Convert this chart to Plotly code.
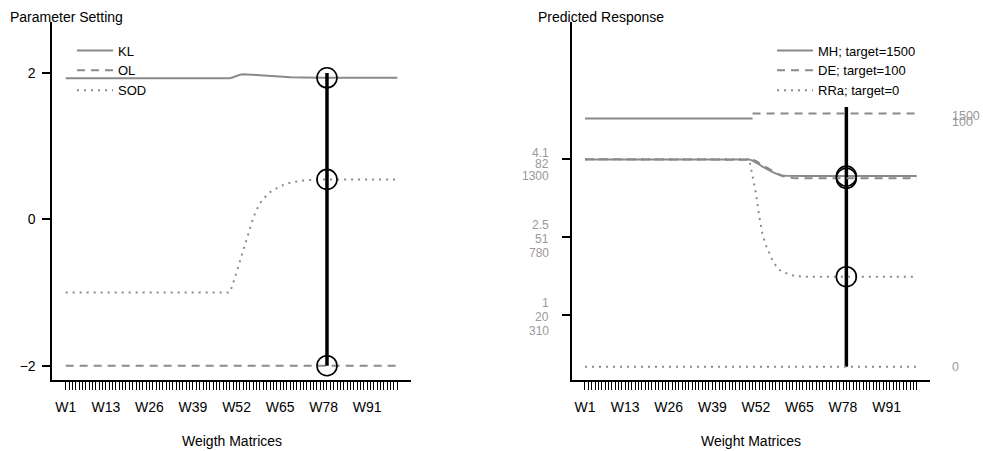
import plotly.graph_objects as go

# ---------------- data ----------------
categories = [f"W{i}" for i in range(1, 101)]
tick_labels = ["W1", "W13", "W26", "W39", "W52", "W65", "W78", "W91"]
selected = "W79"

# Parameter setting (left panel)
KL = [1.928] * 50 + [1.94, 1.96, 1.975, 1.98, 1.98, 1.978, 1.975, 1.972, 1.968, 1.964,
                     1.96, 1.957, 1.954, 1.951, 1.948, 1.946, 1.944, 1.942, 1.94, 1.938,
                     1.936, 1.935, 1.934] + [1.933] * 27
OL = [-2.0] * 100
SOD = [-1.0] * 50 + [-0.87, -0.72, -0.56, -0.42, -0.29, -0.12, 0.02, 0.13, 0.22, 0.28,
                     0.33, 0.37, 0.40, 0.43, 0.45, 0.47, 0.49, 0.50, 0.51, 0.52,
                     0.525, 0.53, 0.535, 0.54] + [0.545] * 26
param_span = [-2, 2]
param_ticks = [-2, 0, 2]

# Predicted responses (right panel)
MH = [1253] * 50 + [1246, 1236, 1222, 1209, 1197, 1186, 1176, 1167, 1160, 1156,
                    1154, 1153] + [1152] * 38
DE = [81.9] * 50 + [81.7, 81.2, 80.4, 79.6, 78.7, 77.8, 77.0, 76.3, 75.7, 75.2,
                    74.9, 74.7, 74.5] + [74.4] * 37
RRa = [4.07] * 50 + [3.74, 3.40, 2.95, 2.58, 2.38, 2.23, 2.08, 1.98, 1.90, 1.86,
                     1.83, 1.81, 1.79, 1.78, 1.77] + [1.765] * 35
MH_target = [1500] * 51 + [None] * 49
DE_target = [None] * 50 + [100] * 50
RRa_target = [0] * 100
target_labels = ["1500", "100", "0"]
target_values = [1500, 100, 0]
response_span_MH = [0, 1570]

# axis tick values (MH units) and stacked labels (RRa / DE / MH)
resp_tick_vals = [312.4, 782.9, 1253.4]
resp_tick_text = [["1", "20", "310"], ["2.5", "51", "780"], ["4.1", "82", "1300"]]

# ---------------- style ----------------
FONT = "Liberation Sans, Arial, Helvetica, sans-serif"
GRAY = "#8a8a8a"
LGRAY = "#999999"
DASH = "8px,6px"
DOT = "2px,5px"
W, H = 983, 451


def px(x):  # window pixel -> paper fraction
    return x / W


def py(y):
    return 1 - y / H


top, bottom = 22, 380
ydom = [py(bottom), py(top)]

fig = go.Figure()

# ---- left panel lines
for name, vals, dash in [("KL", KL, "solid"), ("OL", OL, DASH), ("SOD", SOD, DOT)]:
    fig.add_trace(go.Scatter(x=categories, y=vals, mode="lines", name=name,
                             line=dict(color=GRAY, width=2, dash=dash),
                             xaxis="x", yaxis="y", legend="legend", hoverinfo="skip"))

i_sel = categories.index(selected)
fig.add_trace(go.Scatter(x=[selected, selected], y=param_span, mode="lines",
                         line=dict(color="black", width=3.5), showlegend=False,
                         xaxis="x", yaxis="y"))
circ = dict(symbol="circle-open", size=20, color="black", line=dict(width=1.6, color="black"))
fig.add_trace(go.Scatter(x=[selected] * 3, y=[KL[i_sel], OL[i_sel], SOD[i_sel]],
                         mode="markers", showlegend=False, marker=circ,
                         xaxis="x", yaxis="y"))

# ---- right panel lines
fig.add_trace(go.Scatter(x=categories, y=MH, mode="lines", name="MH; target=1500",
                         line=dict(color=GRAY, width=2), xaxis="x2", yaxis="y2",
                         legend="legend2"))
fig.add_trace(go.Scatter(x=categories, y=DE, mode="lines", name="DE; target=100",
                         line=dict(color=GRAY, width=2, dash=DASH), xaxis="x2", yaxis="y3",
                         legend="legend2"))
fig.add_trace(go.Scatter(x=categories, y=RRa, mode="lines", name="RRa; target=0",
                         line=dict(color=GRAY, width=2, dash=DOT), xaxis="x2", yaxis="y4",
                         legend="legend2"))
fig.add_trace(go.Scatter(x=categories, y=MH_target, mode="lines", showlegend=False,
                         line=dict(color=GRAY, width=2), xaxis="x2", yaxis="y2"))
fig.add_trace(go.Scatter(x=categories, y=DE_target, mode="lines", showlegend=False,
                         line=dict(color=GRAY, width=2, dash=DASH), xaxis="x2", yaxis="y3"))
fig.add_trace(go.Scatter(x=categories, y=RRa_target, mode="lines", showlegend=False,
                         line=dict(color=GRAY, width=2, dash=DOT), xaxis="x2", yaxis="y4"))

fig.add_trace(go.Scatter(x=[selected, selected], y=response_span_MH, mode="lines",
                         line=dict(color="black", width=3.5), showlegend=False,
                         xaxis="x2", yaxis="y2"))
for val, ax in [(MH[i_sel], "y2"), (DE[i_sel], "y3"), (RRa[i_sel], "y4")]:
    fig.add_trace(go.Scatter(x=[selected], y=[val], mode="markers", marker=circ,
                             showlegend=False, xaxis="x2", yaxis=ax))

# ---------------- axes ----------------
n = len(categories)
ext = 0.04 * (n - 1)
xrange = [-ext, n - 1 + ext]
ticktext = [c if c in tick_labels else "" for c in categories]

xcommon = dict(type="category", range=xrange, tickmode="array", tickvals=categories,
               ticktext=ticktext, ticks="outside", ticklen=8, tickwidth=1, tickcolor="black",
               showline=True, linecolor="black", linewidth=2, showgrid=False, zeroline=False,
               tickfont=dict(family=FONT, size=14, color="black"), tickangle=0,
               ticklabelstandoff=5, fixedrange=True)

fig.update_layout(
    width=W, height=H, margin=dict(l=0, r=0, t=0, b=0),
    paper_bgcolor="white", plot_bgcolor="white", showlegend=True,
    font=dict(family=FONT, size=14, color="black"),
    xaxis=dict(domain=[px(52.4), px(410.6)], anchor="y", **xcommon),
    xaxis2=dict(domain=[px(571.7), px(930)], anchor="y2", **xcommon),
    yaxis=dict(domain=ydom, anchor="x", range=[-2.195, 2.695], tickmode="array",
               tickvals=param_ticks, ticks="outside", ticklen=8, tickwidth=2,
               tickcolor="black", showline=True, linecolor="black", linewidth=2,
               showgrid=False, zeroline=False, ticklabelstandoff=4,
               tickfont=dict(family=FONT, size=14, color="black")),
    yaxis2=dict(domain=ydom, anchor="x2", range=[-80.4, 2083.3], tickmode="array",
                tickvals=resp_tick_vals, ticktext=["", "", ""],
                ticks="outside", ticklen=8, tickwidth=2, tickcolor="black",
                showline=True, linecolor="black", linewidth=2, showgrid=False,
                zeroline=False),
    yaxis3=dict(overlaying="y2", anchor="x2", range=[-5.25, 136.08], visible=False),
    yaxis4=dict(overlaying="y2", anchor="x2", range=[-0.261, 6.759], visible=False),
    legend=dict(x=px(72), y=py(35.5), xanchor="left", yanchor="top", bgcolor="rgba(0,0,0,0)",
                itemwidth=36, font=dict(family=FONT, size=13, color="black")),
    legend2=dict(x=px(772), y=py(35.5), xanchor="left", yanchor="top",
                 bgcolor="rgba(0,0,0,0)", itemwidth=36,
                 font=dict(family=FONT, size=13, color="black")),
)

ann = []
ann.append(dict(text="Parameter Setting", x=px(8), y=py(17), xref="paper", yref="paper",
                xanchor="left", yanchor="middle", showarrow=False,
                font=dict(family=FONT, size=14, color="black")))
ann.append(dict(text="Predicted Response", x=px(536), y=py(17), xref="paper", yref="paper",
                xanchor="left", yanchor="middle", showarrow=False,
                font=dict(family=FONT, size=14, color="black")))
ann.append(dict(text="Weigth Matrices", x=px(231.5), y=py(441), xref="paper", yref="paper",
                xanchor="center", yanchor="middle", showarrow=False,
                font=dict(family=FONT, size=14, color="black")))
ann.append(dict(text="Weight Matrices", x=px(751), y=py(441), xref="paper", yref="paper",
                xanchor="center", yanchor="middle", showarrow=False,
                font=dict(family=FONT, size=14, color="black")))

# stacked tick labels of the response axis (RRa / DE / MH)
for k, (tv, labels) in enumerate(zip(resp_tick_vals, resp_tick_text)):
    shifts = [6, -5, -16.5] if k == 2 else [12.5, -1.7, -15.5]
    for lab, sh in zip(labels, shifts):
        ann.append(dict(text=lab, x=px(551), y=tv, xref="paper", yref="y2", yshift=sh,
                        xanchor="right", yanchor="middle", showarrow=False,
                        font=dict(family=FONT, size=12, color=LGRAY)))

# target labels at the right
for label, val, yref, shift in zip(target_labels, target_values, ["y2", "y3", "y4"], [3, -9, 0]):
    ann.append(dict(text=label, x=px(950), y=val, xref="paper", yref=yref, yshift=shift,
                    xanchor="left", yanchor="middle", showarrow=False,
                    font=dict(family=FONT, size=12.5, color=LGRAY)))
fig.update_layout(annotations=ann)

fig.write_html("out.html", config={"displayModeBar": False},
               post_script="document.body.style.margin='0';"
                           "document.body.style.overflow='hidden';")
